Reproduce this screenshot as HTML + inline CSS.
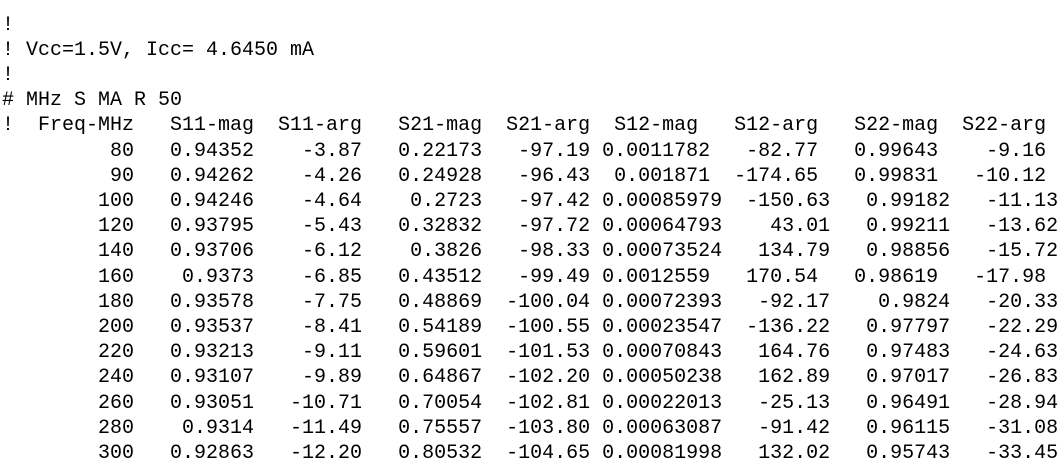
<!DOCTYPE html>
<html><head><meta charset="utf-8">
<style>
html,body{margin:0;padding:0;background:#fff;width:1062px;height:463px;overflow:hidden}
pre{position:absolute;left:2px;top:12.5px;margin:0;font-family:"Liberation Mono",monospace;font-size:20px;line-height:25.2px;color:#000;white-space:pre}
</style></head>
<body>
<pre id="txt">!
! Vcc=1.5V, Icc= 4.6450 mA
!
# MHz S MA R 50
!  Freq-MHz   S11-mag  S11-arg   S21-mag  S21-arg  S12-mag   S12-arg   S22-mag  S22-arg
</pre>
<script>
const freq=["80","90","100","120","140","160","180","200","220","240","260","280","300"];
const s11mag=["0.94352","0.94262","0.94246","0.93795","0.93706","0.9373","0.93578","0.93537","0.93213","0.93107","0.93051","0.9314","0.92863"];
const s11arg=["-3.87","-4.26","-4.64","-5.43","-6.12","-6.85","-7.75","-8.41","-9.11","-9.89","-10.71","-11.49","-12.20"];
const s21mag=["0.22173","0.24928","0.2723","0.32832","0.3826","0.43512","0.48869","0.54189","0.59601","0.64867","0.70054","0.75557","0.80532"];
const s21arg=["-97.19","-96.43","-97.42","-97.72","-98.33","-99.49","-100.04","-100.55","-101.53","-102.20","-102.81","-103.80","-104.65"];
const s12mag=["0.0011782","0.001871","0.00085979","0.00064793","0.00073524","0.0012559","0.00072393","0.00023547","0.00070843","0.00050238","0.00022013","0.00063087","0.00081998"];
const s12arg=["-82.77","-174.65","-150.63","43.01","134.79","170.54","-92.17","-136.22","164.76","162.89","-25.13","-91.42","132.02"];
const s22mag=["0.99643","0.99831","0.99182","0.99211","0.98856","0.98619","0.9824","0.97797","0.97483","0.97017","0.96491","0.96115","0.95743"];
const s22arg=["-9.16","-10.12","-11.13","-13.62","-15.72","-17.98","-20.33","-22.29","-24.63","-26.83","-28.94","-31.08","-33.45"];
const pre=document.getElementById('txt');
// fix header spacing exactly
let header="!  Freq-MHz   S11-mag  S11-arg   S21-mag  S21-arg  S12-mag   S12-arg   S22-mag  S22-arg";
header="!  Freq-MHz"+"   S11-mag"+"  S11-arg"+"   S21-mag"+"  S21-arg"+"  S12-mag"+"   S12-arg"+"   S22-mag"+"  S22-arg";
let out="!\n! Vcc=1.5V, Icc= 4.6450 mA\n!\n# MHz S MA R 50\n"+header+"\n";
for(let i=0;i<freq.length;i++){
  out+=freq[i].padStart(11)+" "+s11mag[i].padStart(9)+" "+s11arg[i].padStart(8)+" "+
       s21mag[i].padStart(9)+" "+s21arg[i].padStart(8)+" "+s12mag[i].padStart(9)+" "+
       s12arg[i].padStart(8)+" "+s22mag[i].padStart(9)+" "+s22arg[i].padStart(8)+(i<freq.length-1?"\n":"");
}
pre.textContent=out;
</script>
</body></html>
